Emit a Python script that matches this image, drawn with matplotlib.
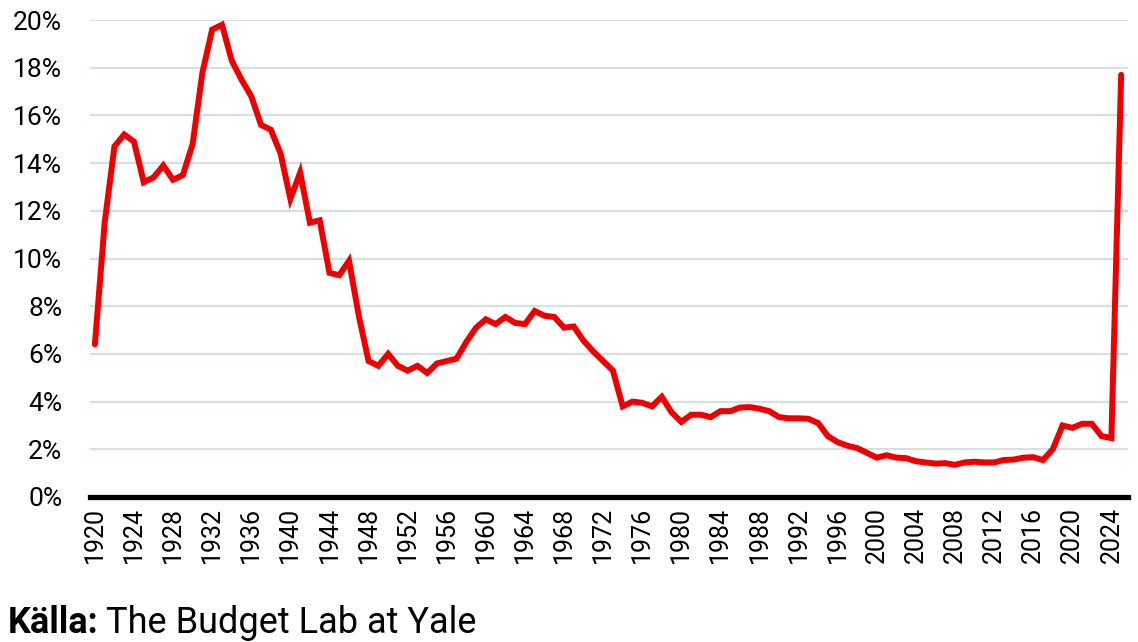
import numpy as np
import matplotlib
matplotlib.use('Agg')
import matplotlib.pyplot as plt

# effektiv tullsats i USA, 1920-2025
years = list(range(1920, 2026))
rate = [
    6.4, 11.5, 14.7, 15.2, 14.9, 13.2, 13.4, 13.9, 13.3, 13.5,   # 1920-29
    14.8, 17.8, 19.6, 19.8, 18.3, 17.5, 16.8, 15.6, 15.4, 14.4,  # 1930-39
    12.5, 13.6, 11.5, 11.6, 9.4, 9.3, 9.9, 7.6, 5.7, 5.5,        # 1940-49
    6.0, 5.5, 5.3, 5.5, 5.2, 5.6, 5.7, 5.8, 6.5, 7.1,            # 1950-59
    7.45, 7.25, 7.55, 7.3, 7.25, 7.8, 7.6, 7.55, 7.1, 7.15,      # 1960-69
    6.55, 6.1, 5.7, 5.3, 3.8, 4.0, 3.95, 3.8, 4.2, 3.55,         # 1970-79
    3.15, 3.45, 3.45, 3.35, 3.6, 3.6, 3.75, 3.77, 3.7, 3.6,      # 1980-89
    3.35, 3.3, 3.3, 3.28, 3.1, 2.55, 2.3, 2.15, 2.05, 1.85,      # 1990-99
    1.65, 1.75, 1.65, 1.63, 1.5, 1.45, 1.4, 1.42, 1.35, 1.45,    # 2000-09
    1.48, 1.45, 1.45, 1.55, 1.57, 1.65, 1.67, 1.55, 2.0, 3.0,    # 2010-19
    2.9, 3.07, 3.07, 2.55, 2.47, 17.7,                           # 2020-25
]
y_ticks = [0, 2, 4, 6, 8, 10, 12, 14, 16, 18, 20]
x_ticks = list(range(1920, 2025, 4))

RED = '#ee0000'
GRID = '#d6e0e0'

plt.rcParams['font.family'] = ['Roboto', 'DejaVu Sans']

W, H = 1138, 642
fig = plt.figure(figsize=(W / 100, H / 100), dpi=100)
ax = fig.add_axes([90 / W, (H - 497) / H, (1128 - 90) / W, (497 - 20) / H])

ax.plot(years, rate, color=RED, lw=4.3, solid_joinstyle='miter',
        solid_capstyle='round', clip_on=False, zorder=3)

ax.set_xlim(1919.5, 2025.7)
ax.set_ylim(0, 20)
ax.set_yticks(y_ticks)
ax.set_yticklabels([f"{v}%" for v in y_ticks], fontsize=19)
ax.set_xticks(x_ticks)
ax.set_xticklabels([str(v) for v in x_ticks], rotation=90, fontsize=18)
ax.tick_params(axis='both', length=0)
ax.tick_params(axis='y', pad=20)
ax.tick_params(axis='x', pad=7)

ax.grid(axis='y', color=GRID, lw=1.6)
ax.axhline(0, color='black', lw=3.8, zorder=4, clip_on=False)
for s in ax.spines.values():
    s.set_visible(False)

# källa: fet etikett, sedan resten direkt efter
base_y = 1 - 633 / H
lbl = fig.text(8 / W, base_y, "Källa:", fontsize=26, fontweight='bold',
               ha='left', va='baseline')
fig.canvas.draw()
bb = lbl.get_window_extent()
fig.text((bb.x1 + 7) / W, base_y, "The Budget Lab at Yale", fontsize=26,
         ha='left', va='baseline')

fig.savefig('out.png', dpi=100)
